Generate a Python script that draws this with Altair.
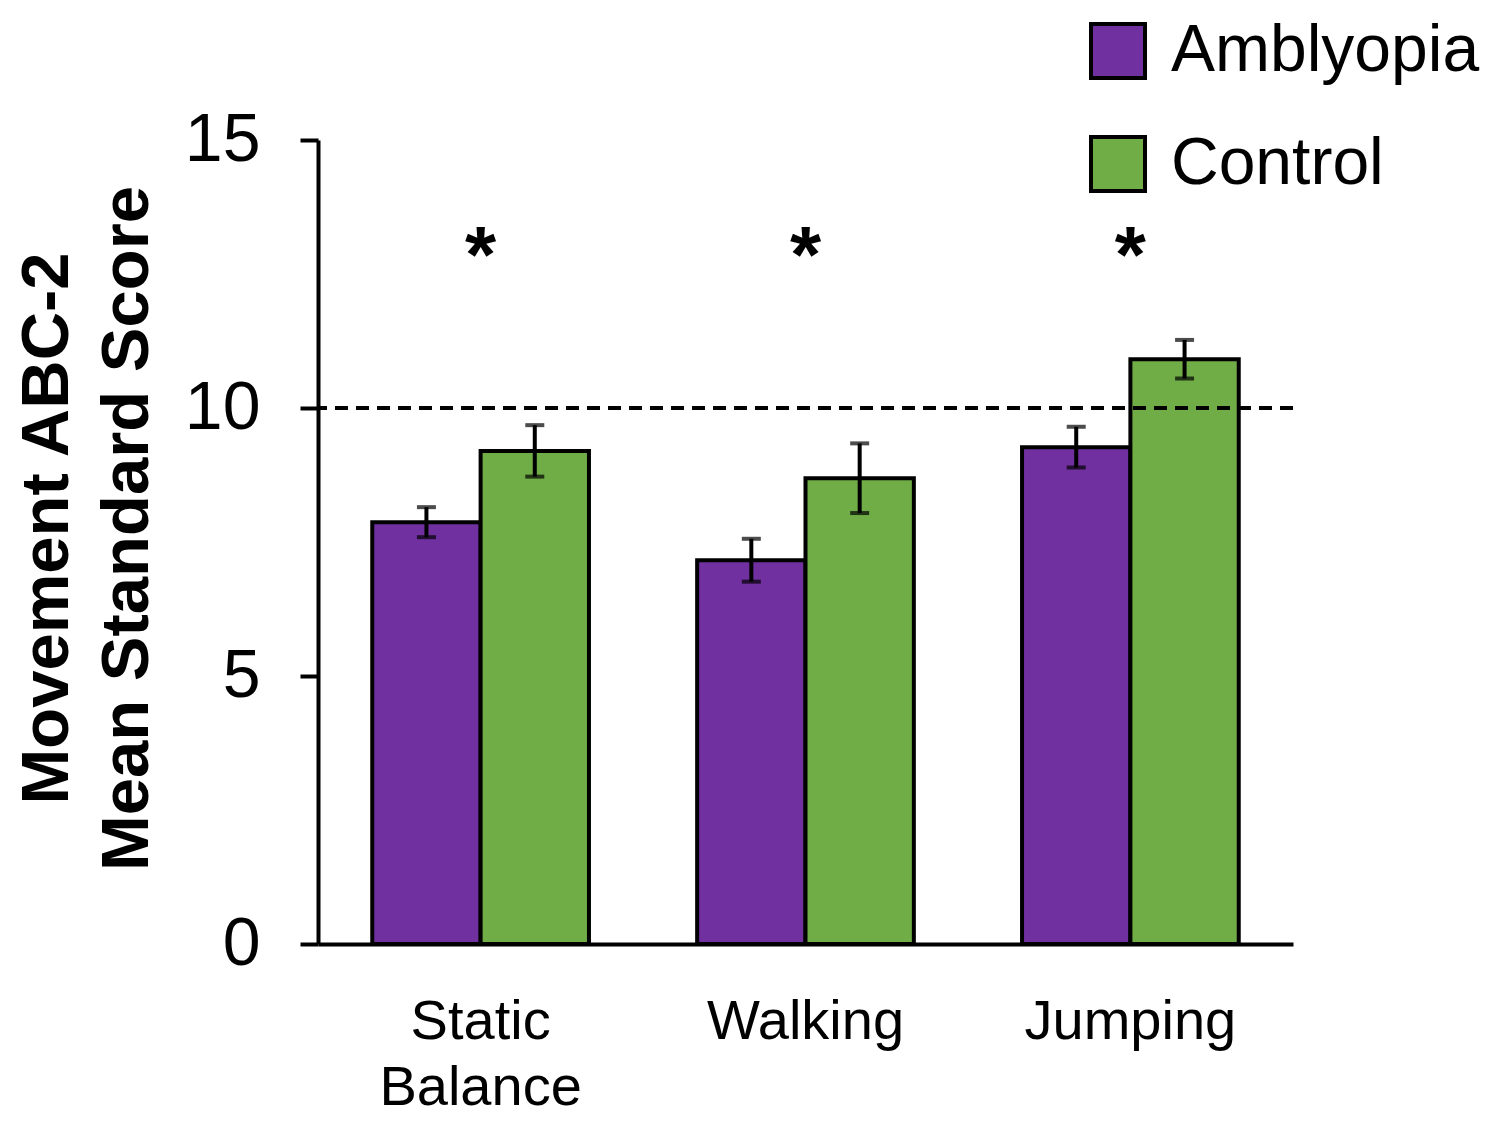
import altair as alt
import pandas as pd

# ---- data ----
categories = ["Static Balance", "Walking", "Jumping"]
groups = ["Amblyopia", "Control"]
amblyopia_mean = [7.87, 7.16, 9.27]
amblyopia_sem = [0.28, 0.40, 0.38]
control_mean = [9.20, 8.69, 10.91]
control_sem = [0.48, 0.65, 0.36]
reference_score = [10]
significance = ["*", "*", "*"]
star_level = [12.35, 12.35, 12.35]
colors = ["#7030A0", "#70AD47"]
y_ticks = [0, 5, 10, 15]

rows = []
for i, c in enumerate(categories):
    for g, m, s in (("Amblyopia", amblyopia_mean, amblyopia_sem),
                    ("Control", control_mean, control_sem)):
        rows.append({"task": c, "group": g, "mean": m[i],
                     "lo": m[i] - s[i], "hi": m[i] + s[i]})
df = pd.DataFrame(rows)

caps = pd.concat([
    df[["task", "group", "lo"]].rename(columns={"lo": "v"}),
    df[["task", "group", "hi"]].rename(columns={"hi": "v"}),
])
ref_df = pd.DataFrame({"v": reference_score})
sig_df = pd.DataFrame({"task": categories, "mark": significance, "v": star_level})

FONT = "Liberation Sans"
LW = 4

x_enc = alt.X(
    "task:N", sort=categories,
    scale=alt.Scale(paddingInner=0.333, paddingOuter=0.167),
    axis=alt.Axis(title=None, labelAngle=0, ticks=False, tickSize=0,
                  labelExpr="split(datum.label, ' ')", labelLimit=0,
                  labelFontSize=56, labelLineHeight=66, labelPadding=50,
                  labelColor="black", domainColor="black", domainWidth=LW),
)
xo_enc = alt.XOffset("group:N", sort=groups,
                     scale=alt.Scale(paddingInner=0, paddingOuter=0))
y_scale = alt.Scale(domain=[0, 15], nice=False)

bars = alt.Chart(df).mark_bar(stroke="black", strokeWidth=LW).encode(
    x=x_enc,
    xOffset=xo_enc,
    y=alt.Y("mean:Q", scale=y_scale,
            axis=alt.Axis(values=y_ticks, grid=False,
                          title=["Movement ABC-2", "Mean Standard Score"],
                          titleFontSize=67, titleFontWeight="bold",
                          titleLineHeight=80, titleColor="black",
                          titleX=-271, titleY=388, titleAngle=-90,
                          titleAlign="center", titleBaseline="middle",
                          labelFontSize=68, labelPadding=40, labelColor="black",
                          tickSize=18, tickWidth=LW, tickColor="black",
                          domainColor="black", domainWidth=LW)),
    color=alt.Color("group:N", sort=groups,
                    scale=alt.Scale(domain=groups, range=colors),
                    legend=alt.Legend(title=None, orient="none",
                                      legendX=767, legendY=-122,
                                      symbolType="square", symbolSize=2916,
                                      symbolStrokeColor="black",
                                      symbolStrokeWidth=LW, symbolOpacity=1,
                                      labelFontSize=66, labelOffset=20,
                                      labelLimit=0, labelColor="black",
                                      rowPadding=43, padding=0)),
)

ref_line = alt.Chart(ref_df).mark_rule(
    color="black", strokeWidth=LW, strokeDash=[13, 8]
).encode(y=alt.Y("v:Q", scale=y_scale))

err = alt.Chart(df).mark_rule(color="black", strokeWidth=LW).encode(
    x=x_enc, xOffset=xo_enc,
    y=alt.Y("lo:Q", scale=y_scale), y2="hi:Q",
)

cap = alt.Chart(caps).mark_tick(color="black", thickness=LW, size=19).encode(
    x=x_enc, xOffset=xo_enc,
    y=alt.Y("v:Q", scale=y_scale),
)

stars = alt.Chart(sig_df).mark_text(
    font=FONT, fontSize=80, fontWeight="bold", baseline="alphabetic",
    color="black"
).encode(
    x=x_enc,
    y=alt.Y("v:Q", scale=y_scale),
    text="mark:N",
)

chart = alt.layer(bars, ref_line, err, cap, stars).properties(
    width=975, height=804,
    padding={"left": 310, "top": 132, "right": 198, "bottom": 172},
    autosize=alt.AutoSizeParams(type="none"),
).configure(
    font=FONT,
).configure_axis(
    labelFont=FONT, titleFont=FONT,
).configure_legend(
    labelFont=FONT,
).configure_view(stroke=None)

chart.save("out.html", embed_options={"renderer": "svg", "actions": False})
